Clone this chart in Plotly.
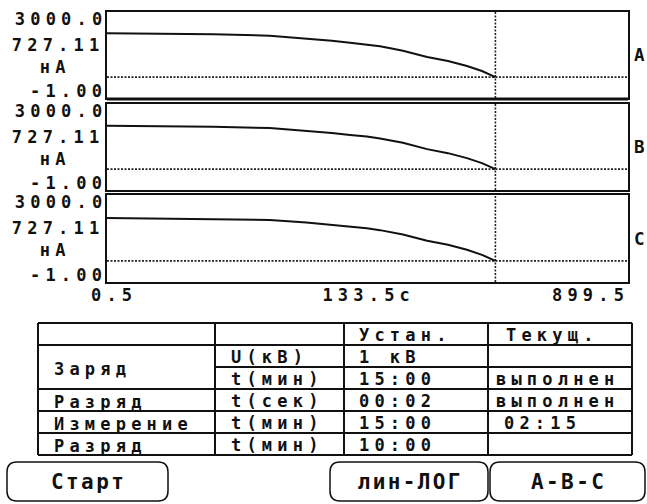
import math
import plotly.graph_objects as go

W, H = 647, 504

# Polarisation current (nA) versus time (s), one trace per phase
time_s = [0.5, 2.3, 5.2, 8.8, 12.7, 16.5, 21.0, 25.4, 30.6, 35.3, 50.0, 67.5, 88.7, 110.0, 133.5]
current_a = [2257, 2222, 2173, 2082, 1998, 1929, 1873, 1803, 1719, 1650, 1430, 1290, 1116, 941, 727.11]
current_b = [2240, 2205, 2160, 2070, 1990, 1920, 1865, 1795, 1712, 1645, 1425, 1285, 1112, 938, 727.11]
current_c = [2207, 2180, 2140, 2055, 1978, 1910, 1856, 1788, 1706, 1640, 1420, 1282, 1110, 936, 727.11]
phase_names = ["A", "B", "C"]
phase_currents = [current_a, current_b, current_c]

cursor_time = 133.5
cursor_current = 727.11
y_min, y_max = -1.00, 3000.0
x_min, x_max = 0.5, 899.5
unit_current = "нА"
unit_time = "с"

# Test programme table
header_set = "Устан."
header_cur = "Текущ."
stage_names = ["Заряд", "Разряд", "Измерение", "Разряд"]
stage_span = [2, 1, 1, 1]
param_names = ["U(кВ)", "t(мин)", "t(сек)", "t(мин)", "t(мин)"]
set_values = ["1 кВ", "15:00", "00:02", "15:00", "10:00"]
current_values = ["", "выполнен", "выполнен", "02:15", ""]
button_labels = ["Старт", "лин-ЛОГ", "А-В-С"]

# ---- screen geometry (pixels) ----
PLOT_L, PLOT_R = 107, 628
PANELS = [(12, 98), (104, 190), (195, 282)]
FONT = "DejaVu Sans Mono"
FS = 17
PHASE_FS = 17.5
BTN_FS = 21
SPACING = 5.2          # extra pitch of the bitmap font
INK = "#111111"


def px(x):
    return x / W


def py(y):
    return 1 - y / H


fig = go.Figure()
layout = dict(
    width=W, height=H, margin=dict(l=0, r=0, t=0, b=0),
    paper_bgcolor="white", plot_bgcolor="white", showlegend=False,
    font=dict(family=FONT, size=FS, color=INK, weight="bold"),
)

annotations = []
shapes = []


def label(text, x, y, anchor="left", size=FS):
    # right-aligned text carries one trailing letter space
    if anchor == "right":
        x += SPACING
    annotations.append(dict(
        text=text, x=px(x), y=py(y), xref="paper", yref="paper",
        xanchor=anchor, yanchor="middle", align=anchor, showarrow=False,
        borderpad=0,
        font=dict(family=FONT, size=size, color=INK, weight="bold"),
    ))


dotted = dict(color="#222222", width=1.6, dash="2px,1.5px")

for i, (top, bot) in enumerate(PANELS):
    n = "" if i == 0 else str(i + 1)
    xa, ya = "x" + n, "y" + n
    layout["xaxis" + n] = dict(
        domain=[px(PLOT_L), px(PLOT_R)], anchor=ya, type="log",
        range=[math.log10(x_min), math.log10(x_max)],
        showticklabels=False, ticks="", showgrid=False, zeroline=False,
        showline=True, mirror=True, linecolor=INK, linewidth=2,
    )
    layout["yaxis" + n] = dict(
        domain=[py(bot), py(top)], anchor=xa,
        range=[y_min, y_max],
        showticklabels=False, ticks="", showgrid=False, zeroline=False,
        showline=True, mirror=True, linecolor=INK, linewidth=2,
    )
    # cursor lines
    fig.add_trace(go.Scatter(x=[x_min, x_max], y=[cursor_current] * 2, mode="lines",
                             line=dotted, xaxis=xa, yaxis=ya, hoverinfo="skip"))
    fig.add_trace(go.Scatter(x=[cursor_time] * 2, y=[y_min, y_max], mode="lines",
                             line=dotted, xaxis=xa, yaxis=ya, hoverinfo="skip",
                             cliponaxis=False))
    # measured current
    fig.add_trace(go.Scatter(x=time_s, y=phase_currents[i], mode="lines",
                             line=dict(color=INK, width=2), xaxis=xa, yaxis=ya,
                             hoverinfo="skip"))
    # axis readouts
    label(f"{y_max:.1f}", 103, top + 7, "right")
    label(f"{cursor_current:.2f}", 100, top + 33, "right")
    label(unit_current, 55, top + 55, "center")
    label(f"{y_min:.2f}", 103, bot - 7, "right")
    label(phase_names[i], 633, (top + bot) / 2, "left", size=PHASE_FS)

# selected phase marker
shapes.append(dict(type="line", xref="paper", yref="paper",
                   x0=px(PLOT_L), x1=px(PLOT_R), y0=py(PANELS[0][1] + 1), y1=py(PANELS[0][1] + 1),
                   line=dict(color=INK, width=3)))

# time axis readouts
label(f"{x_min}", 90, 295, "left")
label(f"{cursor_time}{unit_time}", 368, 295, "center")
label(f"{x_max}", 625, 295, "right")

# ---- table ----
T_L, T_R = 38, 632
COLS = [38, 215, 344, 488, 632]
ROW_TOP = 323
ROW_H = 22
n_rows = len(param_names) + 1
row_lines = [ROW_TOP + k * ROW_H for k in range(n_rows + 1)]
tline = dict(color=INK, width=2)

for x in COLS:
    shapes.append(dict(type="line", xref="paper", yref="paper",
                       x0=px(x), x1=px(x), y0=py(row_lines[0]), y1=py(row_lines[-1]), line=tline))
# horizontal rules; inside a merged stage only columns 2+ are split
stage_starts = []
acc = 0
for s in stage_span:
    stage_starts.append(acc)
    acc += s
for k, y in enumerate(row_lines):
    r = k - 1  # parameter row index that starts here
    x0 = T_L
    if 0 < r < len(param_names) and r not in stage_starts:
        x0 = COLS[1]
    shapes.append(dict(type="line", xref="paper", yref="paper",
                       x0=px(x0), x1=px(T_R), y0=py(y), y1=py(y), line=tline))

label(header_set, 358, ROW_TOP + ROW_H / 2 + 1, "left")
label(header_cur, 505, ROW_TOP + ROW_H / 2 + 1, "left")
for r in range(len(param_names)):
    yc = ROW_TOP + ROW_H * (r + 1) + ROW_H / 2 + 1
    label(param_names[r], 230, yc, "left")
    label(set_values[r], 358, yc, "left")
    if current_values[r]:
        x_cur = 495 if len(current_values[r]) > 6 else 503
        label(current_values[r], x_cur, yc, "left")
for name, start, span in zip(stage_names, stage_starts, stage_span):
    yc = ROW_TOP + ROW_H * (start + 1) + ROW_H * span / 2 + 2
    label(name, 53, yc, "left")


# ---- soft keys ----
def rounded(x0, y0, x1, y1, r):
    pts = [
        f"M {px(x0 + r)},{py(y0)}", f"L {px(x1 - r)},{py(y0)}",
        f"Q {px(x1)},{py(y0)} {px(x1)},{py(y0 + r)}", f"L {px(x1)},{py(y1 - r)}",
        f"Q {px(x1)},{py(y1)} {px(x1 - r)},{py(y1)}", f"L {px(x0 + r)},{py(y1)}",
        f"Q {px(x0)},{py(y1)} {px(x0)},{py(y1 - r)}", f"L {px(x0)},{py(y0 + r)}",
        f"Q {px(x0)},{py(y0)} {px(x0 + r)},{py(y0)}", "Z",
    ]
    return " ".join(pts)


BUTTONS = [(7, 168), (330, 488), (490, 645)]
B_TOP, B_BOT = 462, 501
for (bx0, bx1), text in zip(BUTTONS, button_labels):
    shapes.append(dict(type="path", xref="paper", yref="paper",
                       path=rounded(bx0, B_TOP, bx1, B_BOT, 10),
                       line=dict(color=INK, width=1.5)))
    label(text, (bx0 + bx1) / 2 + 1, (B_TOP + B_BOT) / 2, "center", size=BTN_FS)

layout["annotations"] = annotations
layout["shapes"] = shapes
fig.update_layout(**layout)

# wide character pitch of the instrument's bitmap font
post = """
var st = document.createElement('style');
st.textContent = 'text.annotation-text{letter-spacing:%spx}'
  + ' text.annotation-text[style*="font-size: 21px"]{letter-spacing:2.4px}'
  + ' text.annotation-text[style*="font-size: 17.5px"]{letter-spacing:0}';
document.head.appendChild(st);
""" % SPACING
fig.write_html("out.html", config={"staticPlot": True}, post_script=post)
